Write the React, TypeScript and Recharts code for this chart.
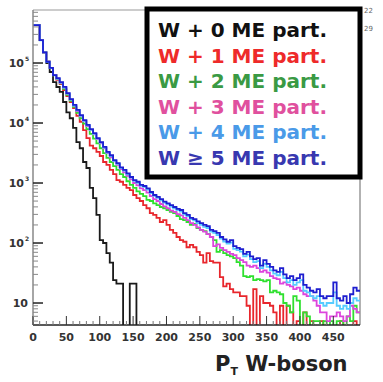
import React from 'react';
import { ComposedChart, Line, XAxis, YAxis, ReferenceLine } from 'recharts';

// bin width of the pT histogram (GeV); first bin starts at 0
const BIN_WIDTH = 5;
const X_MAX = 490;

// event counts per 5 GeV bin, 0 = empty bin
const w0 = [
  427000, 427000, 240000, 151000, 100000, 70800, 47900, 39800, 33100, 22400,
  15100, 12000, 8300, 4800, 3800, 2240, 1780, 832, 562, 295,
  112, 100, 68, 47, 24, 21, 21, 0, 0, 21,
  21, 0, 0, 0, 0, 0, 0, 0, 0, 0,
  0, 0, 0, 0, 0, 0, 0, 0, 0, 0,
  0, 0, 0, 0, 0, 0, 0, 0, 0, 0,
  0, 0, 0, 0, 0, 0, 0, 0, 0, 0,
  0, 0, 0, 0, 0, 0, 0, 0, 0, 0,
  0, 0, 0, 0, 0, 0, 0, 0, 0, 0,
  0, 0, 0, 0, 0, 0, 0, 0,
];

const w1 = [
  427000, 427000, 240000, 151000, 105000, 83000, 63000, 52500, 44700, 35500,
  28200, 22400, 17800, 13200, 10500, 7600, 5600, 4200, 3800, 3300,
  2820, 2240, 2000, 1660, 1410, 1120, 1050, 933, 832, 759,
  631, 562, 501, 427, 380, 316, 295, 263, 224, 240,
  200, 166, 148, 126, 112, 105, 85, 93, 85, 71,
  63, 47, 68, 50, 47, 47, 27, 19, 21, 17,
  15, 15, 13, 13, 9, 0, 17, 0, 13, 10,
  10, 9, 7, 0, 9, 0, 9, 7, 0, 5,
  0, 7, 0, 5, 0, 0, 5, 0, 0, 0,
  0, 0, 5, 0, 0, 0, 5, 0,
];

const w2 = [
  427000, 427000, 240000, 151000, 105000, 83000, 63000, 53700, 45700, 37200,
  29500, 23400, 18600, 14800, 12000, 9800, 7900, 6600, 5500, 4570,
  3800, 3160, 2630, 2240, 1910, 1660, 1410, 1260, 1070, 933,
  832, 724, 661, 603, 525, 501, 457, 427, 398, 380,
  355, 331, 316, 282, 251, 240, 224, 200, 209, 178,
  166, 158, 141, 126, 112, 71, 76, 68, 63, 60,
  56, 48, 42, 28, 27, 28, 24, 25, 24, 23,
  24, 15, 16, 15, 14, 10, 9, 7, 13, 11,
  0, 7, 6, 0, 5, 5, 0, 5, 0, 5,
  0, 5, 5, 0, 6, 5, 9, 7,
];

const w3 = [
  427000, 427000, 240000, 151000, 105000, 83000, 63000, 55000, 46800, 38900,
  30900, 24500, 19500, 15800, 12900, 10700, 8900, 7600, 6500, 5400,
  4570, 3800, 3160, 2690, 2290, 2000, 1700, 1510, 1320, 1150,
  1000, 912, 813, 759, 692, 603, 537, 501, 447, 407,
  380, 347, 331, 302, 288, 263, 240, 214, 200, 182,
  166, 155, 141, 126, 89, 95, 83, 76, 71, 66,
  63, 56, 52, 48, 42, 40, 42, 38, 33, 35,
  32, 28, 26, 25, 21, 22, 20, 19, 17, 18,
  16, 14, 13, 13, 11, 9, 7, 7, 5, 6,
  6, 7, 6, 5, 6, 9, 8, 7,
];

const w4 = [
  427000, 427000, 238000, 150000, 104000, 82000, 62000, 55000, 47000, 39000,
  31000, 24500, 19500, 16200, 13200, 10900, 9100, 7700, 6600, 5500,
  4700, 3900, 3200, 2800, 2350, 2080, 1780, 1610, 1400, 1230,
  1090, 1010, 900, 860, 780, 680, 610, 565, 515, 470,
  440, 405, 380, 355, 335, 300, 280, 250, 238, 215,
  200, 186, 178, 155, 148, 136, 118, 106, 98, 102,
  80, 76, 72, 60, 64, 54, 48, 50, 38, 45,
  40, 35, 31, 29, 33, 26, 22, 24, 20, 22,
  24, 16, 15, 13, 12, 13, 10, 9, 10, 10,
  15, 9, 8, 9, 8, 10, 12, 11,
];

const w5 = [
  427000, 427000, 240000, 151000, 105000, 83000, 63000, 56000, 48000, 40000,
  31600, 25100, 20000, 16600, 13500, 11200, 9300, 7900, 6800, 5600,
  4800, 4000, 3300, 2900, 2400, 2140, 1820, 1660, 1450, 1260,
  1120, 1050, 933, 891, 813, 708, 631, 589, 537, 490,
  457, 427, 398, 372, 355, 316, 295, 263, 251, 229,
  214, 200, 191, 166, 158, 148, 126, 115, 105, 112,
  89, 83, 79, 66, 71, 60, 54, 56, 42, 52,
  45, 40, 35, 33, 38, 30, 26, 28, 24, 26,
  30, 20, 18, 16, 15, 17, 13, 12, 13, 13,
  22, 12, 11, 13, 10, 14, 18, 16,
];

const SERIES = [
  { key: 'w0', values: w0, color: '#1a1a1a', label: 'W + 0 ME part.', text: '#111111' },
  { key: 'w1', values: w1, color: '#e8262c', label: 'W + 1 ME part.', text: '#ee2a2a' },
  { key: 'w2', values: w2, color: '#2fe02f', label: 'W + 2 ME part.', text: '#3a9a44' },
  { key: 'w3', values: w3, color: '#dd44dd', label: 'W + 3 ME part.', text: '#e0509e' },
  { key: 'w4', values: w4, color: '#55ccff', label: 'W + 4 ME part.', text: '#4a9ae8' },
  { key: 'w5', values: w5, color: '#1e1ed0', label: 'W \u2265 5 ME part.', text: '#3838b0' },
];

const X_TICKS = [0, 50, 100, 150, 200, 250, 300, 350, 400, 450];
const Y_MAJOR = [10, 100, 1000, 10000, 100000];
const Y_DOMAIN: [number, number] = [4.3, 765000];

// empty bins are sent below the axis floor and clipped away
const FLOOR = 0.5;
const data = w5.map((_, i) => {
  const row: any = { pt: i * BIN_WIDTH };
  SERIES.forEach(s => { row[s.key] = s.values[i] > 0 ? s.values[i] : FLOOR; });
  return row;
});
const closing: any = { pt: X_MAX };
SERIES.forEach(s => { closing[s.key] = data[data.length - 1][s.key]; });
data.push(closing);

const xTicks: number[] = [];
for (let v = 0; v < X_MAX; v += 10) xTicks.push(v);
const yTicks: number[] = [5, 6, 7, 8, 9];
Y_MAJOR.forEach(d => { for (let m = 1; m <= 9; m++) if (d * m < Y_DOMAIN[1]) yTicks.push(d * m); });

const tickFont = { fontFamily: 'DejaVu Sans, Verdana, sans-serif', fontWeight: 700, fontSize: 11, fill: '#333' };

const XTick = (props: any) => {
  const { x, y, payload } = props;
  const major = X_TICKS.includes(payload.value);
  return (
    <g>
      <line x1={x} x2={x} y1={y} y2={y - (major ? 9 : 4)} stroke={major ? '#333' : '#777'} strokeWidth={1} />
      {major && <text x={x} y={y + 16} textAnchor="middle" {...tickFont}>{payload.value}</text>}
    </g>
  );
};

const YTick = (props: any) => {
  const { x, y, payload } = props;
  const lg = Math.log10(payload.value);
  const exp = Math.round(lg);
  const major = Math.abs(lg - exp) < 1e-6;
  return (
    <g>
      <line x1={x} x2={x + (major ? 10 : 5)} y1={y} y2={y} stroke={major ? '#222' : '#888'} strokeWidth={major ? 1.5 : 1} />
      {major && (
        <text x={exp > 1 ? x - 9 : x - 5} y={y + 4} textAnchor="end" {...tickFont}>
          10
        </text>
      )}
      {major && exp > 1 && (
        <text x={x - 8} y={y - 2} textAnchor="start" {...tickFont} fontSize={6}>{exp}</text>
      )}
    </g>
  );
};

export default function App() {
  return (
    <div style={{ position: 'absolute', left: 0, top: 0, width: 383, height: 382, background: '#fff' }}>
      <ComposedChart width={383} height={382} data={data} margin={{ top: 10, right: 23, bottom: 27, left: 3 }}>
        <XAxis
          dataKey="pt"
          type="number"
          domain={[0, X_MAX]}
          ticks={xTicks}
          interval={0}
          tickSize={0}
          tickMargin={0}
          tick={<XTick />}
          height={30}
          axisLine={{ stroke: '#222', strokeWidth: 1.5 }}
          allowDataOverflow
        />
        <YAxis
          type="number"
          scale="log"
          domain={Y_DOMAIN}
          ticks={yTicks}
          interval={0}
          tickSize={0}
          tickMargin={0}
          tick={<YTick />}
          width={30}
          axisLine={{ stroke: '#888', strokeWidth: 1.5 }}
          allowDataOverflow
        />
        <ReferenceLine y={Y_DOMAIN[1]} stroke="#999" strokeWidth={1} ifOverflow="extendDomain" />
        <ReferenceLine x={X_MAX} stroke="#999" strokeWidth={1.5} />
        {SERIES.map(s => (
          <Line
            key={s.key}
            dataKey={s.key}
            type="stepAfter"
            stroke={s.color}
            strokeWidth={1.8}
            dot={false}
            activeDot={false}
            isAnimationActive={false}
          />
        ))}
      </ComposedChart>
      <svg width={383} height={382} style={{ position: 'absolute', left: 0, top: 0, pointerEvents: 'none' }}>
        <rect x={147} y={9} width={213} height={168} fill="#fff" stroke="#000" strokeWidth={5} />
        {SERIES.map((s, i) => (
          <text
            key={s.key}
            x={158}
            y={37 + i * 25.5}
            fill={s.text}
            fontFamily="DejaVu Sans, Verdana, sans-serif"
            fontWeight={700}
            fontSize={20}
          >
            {s.label}
          </text>
        ))}
        <text x={364} y={13} fontFamily="DejaVu Sans, sans-serif" fontSize={7} fill="#666">22</text>
        <text x={364} y={31} fontFamily="DejaVu Sans, sans-serif" fontSize={7} fill="#666">29</text>
        <text x={215} y={371} fontFamily="DejaVu Sans, Verdana, sans-serif" fontWeight={700} fontSize={21} fill="#222">
          P<tspan fontSize={11} dy={4}>T</tspan>
          <tspan dy={-4}> W-boson</tspan>
        </text>
      </svg>
    </div>
  );
}
